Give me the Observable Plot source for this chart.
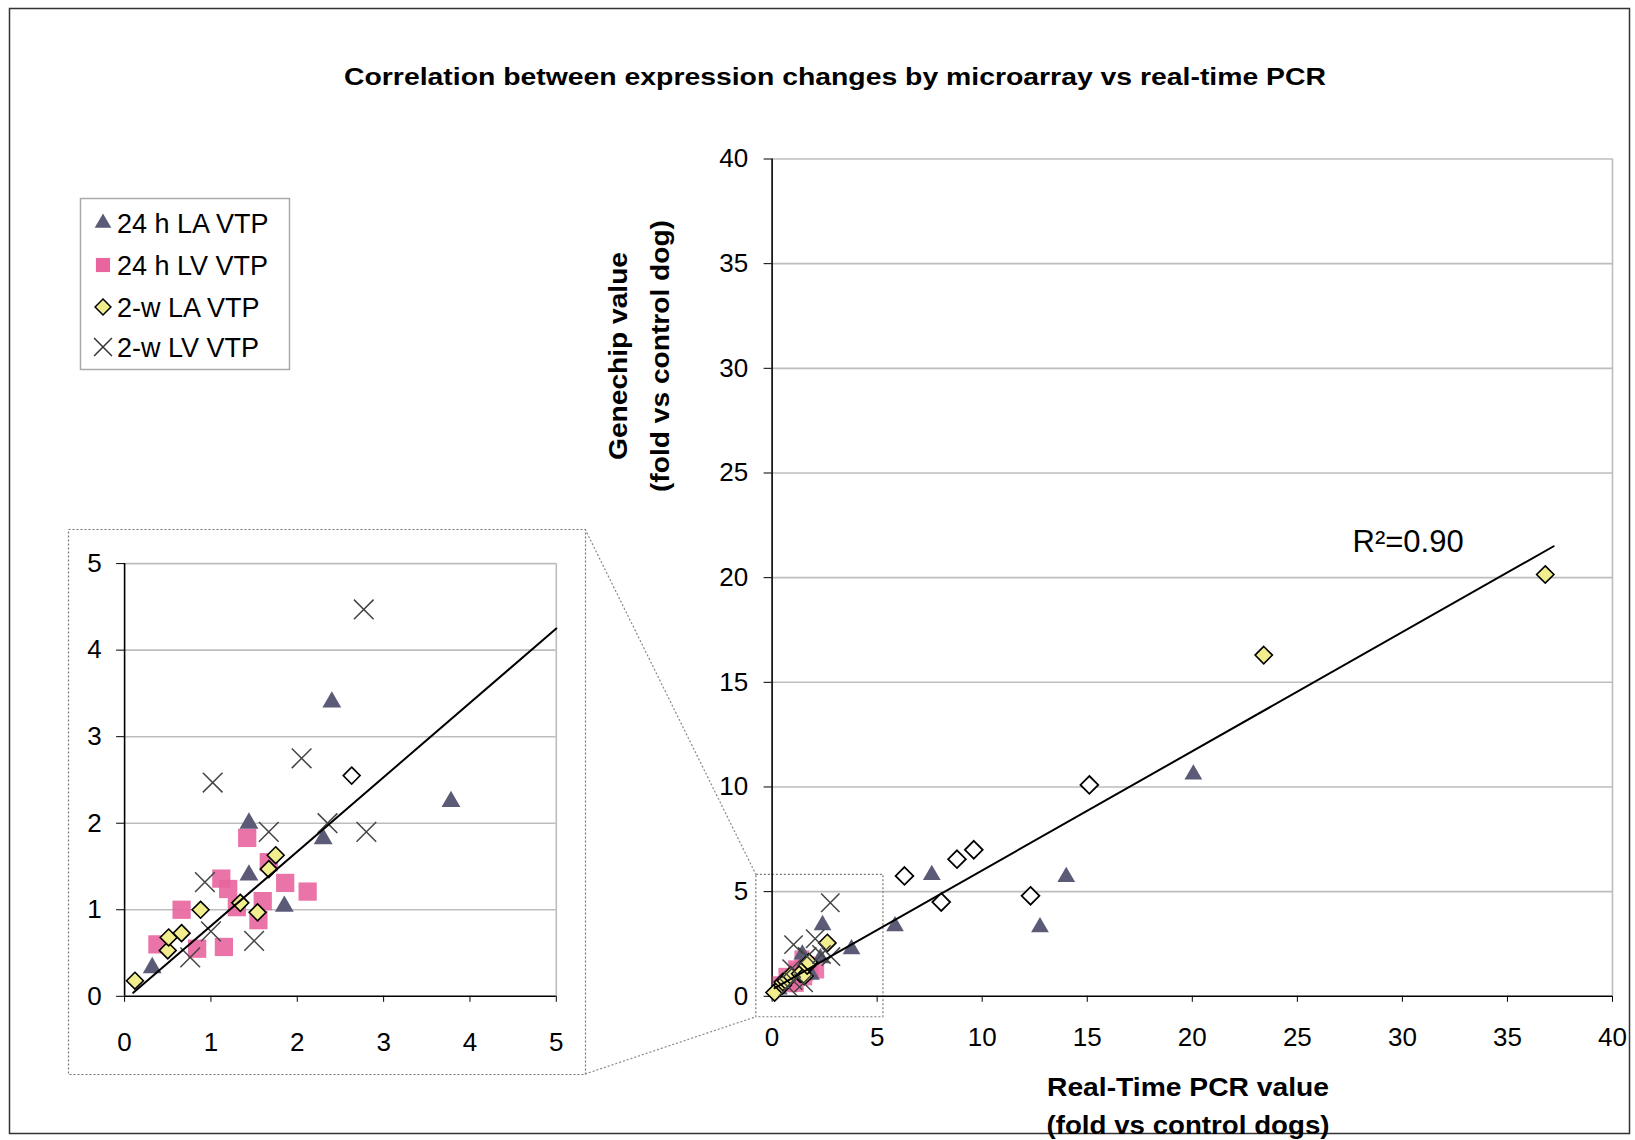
<!DOCTYPE html>
<html>
<head>
<meta charset="utf-8">
<script src="https://cdn.jsdelivr.net/npm/d3@7"></script>
<script src="https://cdn.jsdelivr.net/npm/@observablehq/plot@0.6"></script>
<style>
  html, body { margin: 0; padding: 0; background: #fff; }
  #fig { position: relative; width: 1635px; height: 1140px; overflow: hidden; background: #fff;
         font-family: "Liberation Sans", Arial, Helvetica, sans-serif; }
</style>
</head>
<body>
<div id="fig"></div>
<script>
// ---------------- DATA ----------------
// [real-time PCR fold, Genechip fold]
const la24h = [ // 24 h LA VTP (triangles)
  [0.32, 0.33], [1.44, 1.40], [1.44, 2.00], [1.85, 1.04], [2.30, 1.82], [2.40, 3.40], [3.78, 2.25],
  [5.85, 3.35], [7.60, 5.80], [12.75, 3.30], [14.00, 5.70], [20.05, 10.60]
];
const lv24h = [ // 24 h LV VTP (squares)
  [1.42, 1.83], [1.67, 1.55], [1.12, 1.36], [1.20, 1.24], [1.30, 1.03], [1.60, 1.10], [1.86, 1.31],
  [2.12, 1.21], [0.66, 1.00], [1.55, 0.88], [0.38, 0.60], [0.84, 0.55], [1.15, 0.57]
];
const la2w = [ // 2-w LA VTP (yellow diamonds)
  [0.12, 0.18], [0.50, 0.53], [0.51, 0.68], [0.66, 0.73], [0.88, 1.00], [1.34, 1.08], [1.54, 0.97],
  [1.67, 1.47], [1.75, 1.63], [2.63, 2.55], [23.40, 16.30], [36.80, 20.15]
];
const la2wOpen = [ // 2-w LA VTP points drawn as open diamonds
  [6.30, 5.75], [8.05, 4.50], [8.80, 6.55], [9.60, 7.00], [12.30, 4.80], [15.10, 10.10]
];
const lv2w = [ // 2-w LV VTP (crosses)
  [0.76, 0.45], [1.00, 0.75], [1.50, 0.64], [0.93, 1.32], [1.67, 1.90], [2.35, 2.00], [2.80, 1.90],
  [1.02, 2.47], [2.05, 2.75], [2.77, 4.47]
];
const mainTrend = [[0.12, 0.39], [37.2, 21.5]];   // linear fit, main chart
const insetTrend = [[0.10, 0.04], [5.0, 4.25]];   // linear fit, inset
const mainTicks = [0, 5, 10, 15, 20, 25, 30, 35, 40];
const insetTicks = [0, 1, 2, 3, 4, 5];
const insetRegion = {x1: -0.75, x2: 5.3, y1: -1.0, y2: 5.8}; // zoomed region shown in the inset
const legendLabels = ["24 h LA VTP", "24 h LV VTP", "2-w LA VTP", "2-w LV VTP"];
const titleText = "Correlation between expression changes by microarray vs real-time PCR";
const yTitle = ["Genechip value", "(fold vs control dog)"];
const xTitle = ["Real-Time PCR value", "(fold vs control dogs)"];
const r2Label = ["R\u00B2=0.90"];

// ---------------- STYLE ----------------
const FONT = '"Liberation Sans", Arial, Helvetica, sans-serif';
const C_TRI = "#5b5b78", C_SQ = "#e8659e", C_DIA = "#f2ee8e", C_X = "#444", C_GRID = "#bdbdbd";
const fx = d => d[0], fy = d => d[1];
const intFmt = d3.format("d");

const fig = document.getElementById("fig");
function place(el, left, top, z) {
  el.style.position = "absolute"; el.style.left = left + "px"; el.style.top = top + "px";
  if (z) el.style.zIndex = z;
  fig.appendChild(el);
}

// ---------------- MAIN CHART ----------------
const M = {left: 600, top: 120, width: 1030, height: 980};
const mainPlot = Plot.plot({
  width: M.width, height: M.height,
  marginLeft: 171.6, marginRight: 18, marginTop: 38.5, marginBottom: 104.2,
  style: {fontFamily: FONT, fontSize: "26px", color: "#000", background: "transparent", overflow: "visible"},
  x: {domain: [0, 40]}, y: {domain: [0, 40]},
  marks: [
    Plot.ruleY(mainTicks.filter(d => d > 0), {stroke: C_GRID, strokeWidth: 1.6}),
    Plot.ruleX([40], {stroke: C_GRID, strokeWidth: 1.6}),
    Plot.rect([insetRegion], {x1: "x1", x2: "x2", y1: "y1", y2: "y2", fill: "none", stroke: "#777", strokeWidth: 1.2, strokeDasharray: "2,2"}),
    Plot.ruleX([0], {stroke: "#000", strokeWidth: 1.6}),
    Plot.ruleY([0], {stroke: "#000", strokeWidth: 1.6}),
    Plot.axisY({ticks: mainTicks, tickFormat: intFmt, tickSize: 8, tickPadding: 16, fontSize: 26, label: null}),
    Plot.axisX({ticks: mainTicks, tickFormat: intFmt, tickSize: 6, tickPadding: 25, fontSize: 26, label: null}),
    Plot.dot(lv24h, {x: fx, y: fy, symbol: "square", r: 8.5, fill: C_SQ, fillOpacity: 0.85}),
    Plot.dot(la24h, {x: fx, y: fy, symbol: "triangle", r: 6.6, fill: C_TRI}),
    Plot.dot(la2w, {x: fx, y: fy, symbol: "diamond2", r: 7.8, fill: C_DIA, stroke: "#000", strokeWidth: 1.6}),
    Plot.dot(la2wOpen, {x: fx, y: fy, symbol: "diamond2", r: 8, fill: "#fff", stroke: "#000", strokeWidth: 1.8}),
    Plot.dot(lv2w, {x: fx, y: fy, symbol: "times", r: 8.4, stroke: C_X, strokeWidth: 1.5}),
    Plot.line(mainTrend, {x: fx, y: fy, stroke: "#000", strokeWidth: 2}),
    Plot.text(r2Label, {x: mainTrend[1][0], y: mainTrend[1][1], text: d => d, textAnchor: "end", dx: -90, dy: -4, fontSize: 31, fill: "#000"})
  ]
});
place(mainPlot, M.left, M.top, 1);

// ---------------- INSET CHART ----------------
const I = {left: 68, top: 529, width: 517, height: 545};
const insetPlot = Plot.plot({
  width: I.width, height: I.height,
  marginLeft: 56.1, marginRight: 29.2, marginTop: 34.1, marginBottom: 78.2,
  style: {fontFamily: FONT, fontSize: "26px", color: "#000", background: "transparent", overflow: "visible"},
  x: {domain: [0, 5]}, y: {domain: [0, 5]},
  marks: [
    Plot.ruleY(insetTicks.filter(d => d > 0), {stroke: C_GRID, strokeWidth: 1.6}),
    Plot.ruleX([5], {stroke: C_GRID, strokeWidth: 1.6}),
    Plot.ruleX([0], {stroke: "#000", strokeWidth: 1.6}),
    Plot.ruleY([0], {stroke: "#000", strokeWidth: 1.6}),
    Plot.axisY({ticks: insetTicks, tickFormat: intFmt, tickSize: 8, tickPadding: 15, fontSize: 26, label: null}),
    Plot.axisX({ticks: insetTicks, tickFormat: intFmt, tickSize: 6, tickPadding: 30, fontSize: 26, label: null}),
    Plot.dot(lv24h, {x: fx, y: fy, symbol: "square", r: 10.3, fill: C_SQ, fillOpacity: 0.9}),
    Plot.dot(la24h, {filter: d => d[0] <= 5 && d[1] <= 5, x: fx, y: fy, symbol: "triangle", r: 7, fill: C_TRI}),
    Plot.dot(la2w, {filter: d => d[0] <= 2.5, x: fx, y: fy, symbol: "diamond2", r: 7.6, fill: C_DIA, stroke: "#000", strokeWidth: 1.6}),
    Plot.dot(la2w, {filter: d => d[0] > 2.5 && d[0] <= 5, x: fx, y: fy, symbol: "diamond2", r: 7.6, fill: "#fff", stroke: "#000", strokeWidth: 1.6}),
    Plot.dot(lv2w, {x: fx, y: fy, symbol: "times", r: 9, stroke: C_X, strokeWidth: 1.5}),
    Plot.line(insetTrend, {x: fx, y: fy, stroke: "#000", strokeWidth: 2})
  ]
});
place(insetPlot, I.left, I.top, 1);

// ---------------- OVERLAY: frame, titles, legend, connectors ----------------
const ov = d3.create("svg").attr("width", 1635).attr("height", 1140)
  .style("pointer-events", "none").style("font-family", FONT);
place(ov.node(), 0, 0, 2);

// outer frame
ov.append("rect").attr("x", 9.5).attr("y", 8.5).attr("width", 1620).attr("height", 1125)
  .attr("fill", "none").attr("stroke", "#333").attr("stroke-width", 1.5);

// title
ov.append("text").attr("x", 835).attr("y", 85).attr("text-anchor", "middle")
  .attr("font-size", 23).attr("font-weight", "bold")
  .attr("textLength", 982).attr("lengthAdjust", "spacingAndGlyphs").text(titleText);

// y axis title (two lines, rotated)
[[618, 208], [660, 272]].forEach(([cx, len], i) => {
  ov.append("text").attr("transform", `translate(${cx},356) rotate(-90)`)
    .attr("text-anchor", "middle").attr("dy", "0.35em")
    .attr("font-size", 26).attr("font-weight", "bold")
    .attr("textLength", len).attr("lengthAdjust", "spacingAndGlyphs").text(yTitle[i]);
});
// x axis title (two lines)
[[1087, 282], [1125, 283]].forEach(([cy, len], i) => {
  ov.append("text").attr("x", 1188).attr("y", cy).attr("dy", "0.35em").attr("text-anchor", "middle")
    .attr("font-size", 26).attr("font-weight", "bold")
    .attr("textLength", len).attr("lengthAdjust", "spacingAndGlyphs").text(xTitle[i]);
});

// inset dashed box
ov.append("rect").attr("x", I.left + 0.5).attr("y", I.top + 0.5).attr("width", I.width).attr("height", I.height)
  .attr("fill", "none").attr("stroke", "#777").attr("stroke-width", 1.2).attr("stroke-dasharray", "2,2");

// connectors from inset box to zoom region in main chart
const sx = mainPlot.scale("x"), sy = mainPlot.scale("y");
const zx = M.left + sx.apply(insetRegion.x1);
const zyTop = M.top + sy.apply(insetRegion.y2);
const zyBot = M.top + sy.apply(insetRegion.y1);
[[I.left + I.width, I.top, zx, zyTop], [I.left + I.width, I.top + I.height, zx, zyBot]].forEach(([x1, y1, x2, y2]) => {
  ov.append("line").attr("x1", x1).attr("y1", y1).attr("x2", x2).attr("y2", y2)
    .attr("stroke", "#888").attr("stroke-width", 1.2).attr("stroke-dasharray", "2,2");
});

// legend
const lg = ov.append("g");
lg.append("rect").attr("x", 80.5).attr("y", 198.5).attr("width", 209).attr("height", 171)
  .attr("fill", "#fff").attr("stroke", "#aaa").attr("stroke-width", 1.5);
const legendSym = [
  {type: d3.symbolTriangle, size: 120, fill: C_TRI, stroke: "none", sw: 0},
  {type: d3.symbolSquare, size: 200, fill: C_SQ, stroke: "none", sw: 0},
  {type: d3.symbolDiamond2, size: 160, fill: C_DIA, stroke: "#000", sw: 1.5},
  {type: d3.symbolTimes, size: 210, fill: "none", stroke: "#333", sw: 1.5}
];
const rowY = [223, 265, 307, 347];
legendLabels.forEach((lab, i) => {
  const s = legendSym[i];
  lg.append("path").attr("transform", `translate(103,${rowY[i]})`)
    .attr("d", d3.symbol(s.type, s.size)()).attr("fill", s.fill).attr("stroke", s.stroke).attr("stroke-width", s.sw);
  lg.append("text").attr("x", 117).attr("y", rowY[i]).attr("dy", "0.36em").attr("font-size", 27).text(lab);
});
</script>
</body>
</html>
